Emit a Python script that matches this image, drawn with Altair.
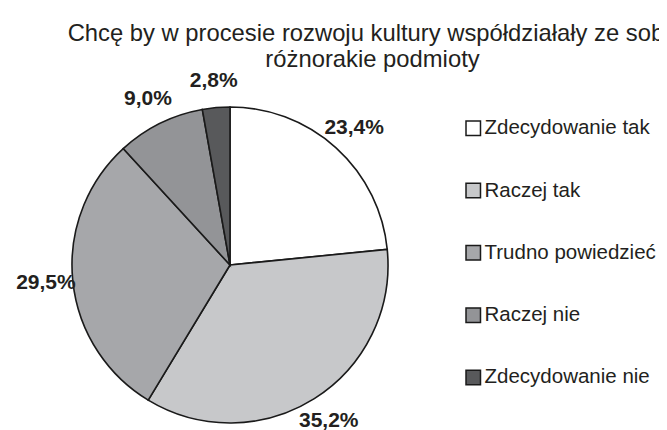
import altair as alt
import pandas as pd

categories = ["Zdecydowanie tak", "Raczej tak", "Trudno powiedzieć", "Raczej nie", "Zdecydowanie nie"]
values = [23.4, 35.2, 29.5, 9.0, 2.8]
labels = ["23,4%", "35,2%", "29,5%", "9,0%", "2,8%"]
colors = ["#ffffff", "#c7c8ca", "#a6a7aa", "#939497", "#58595b"]

df = pd.DataFrame({"kat": categories, "val": values, "lab": labels, "ord": list(range(5))})

cx, cy = 222, 257

base = alt.Chart(df).encode(
    theta=alt.Theta("val:Q", stack=True),
    order=alt.Order("ord:Q"),
)

pie = base.mark_arc(outerRadius=158, stroke="#1a1a1a", strokeWidth=1.6).encode(
    color=alt.Color(
        "kat:N",
        scale=alt.Scale(domain=categories, range=colors),
        sort=categories,
        legend=alt.Legend(
            title=None,
            orient="none",
            legendX=455,
            legendY=110,
            symbolType="square",
            symbolSize=210,
            symbolStrokeColor="#1a1a1a",
            symbolStrokeWidth=1.5,
            labelFontSize=20.5,
            labelFont="Liberation Sans",
            labelColor="#231f20",
            rowPadding=41.3,
            labelOffset=1,
            labelLimit=300,
        ),
    ),
    x=alt.value(cx),
    y=alt.value(cy),
)

text = base.mark_text(
    radius=185, fontSize=21, fontWeight="bold", font="Liberation Sans", color="#231f20"
).encode(text="lab:N", x=alt.value(cx), y=alt.value(cy))

chart = (
    alt.layer(pie, text)
    .properties(
        width=651,
        height=422,
        padding=0,
        autosize=alt.AutoSizeParams(type="none"),
        title=alt.TitleParams(
            text=["Chcę by w procesie rozwoju kultury współdziałały ze sobą", "różnorakie podmioty"],
            fontSize=23.8,
            font="Liberation Sans",
            fontWeight="normal",
            color="#231f20",
            anchor="middle",
            frame="group",
            dx=39,
            offset=-64,
            lineHeight=26,
        ),
    )
    .configure_view(stroke=None)
)

chart.save("out.html", embed_options={"renderer": "svg", "actions": False})
